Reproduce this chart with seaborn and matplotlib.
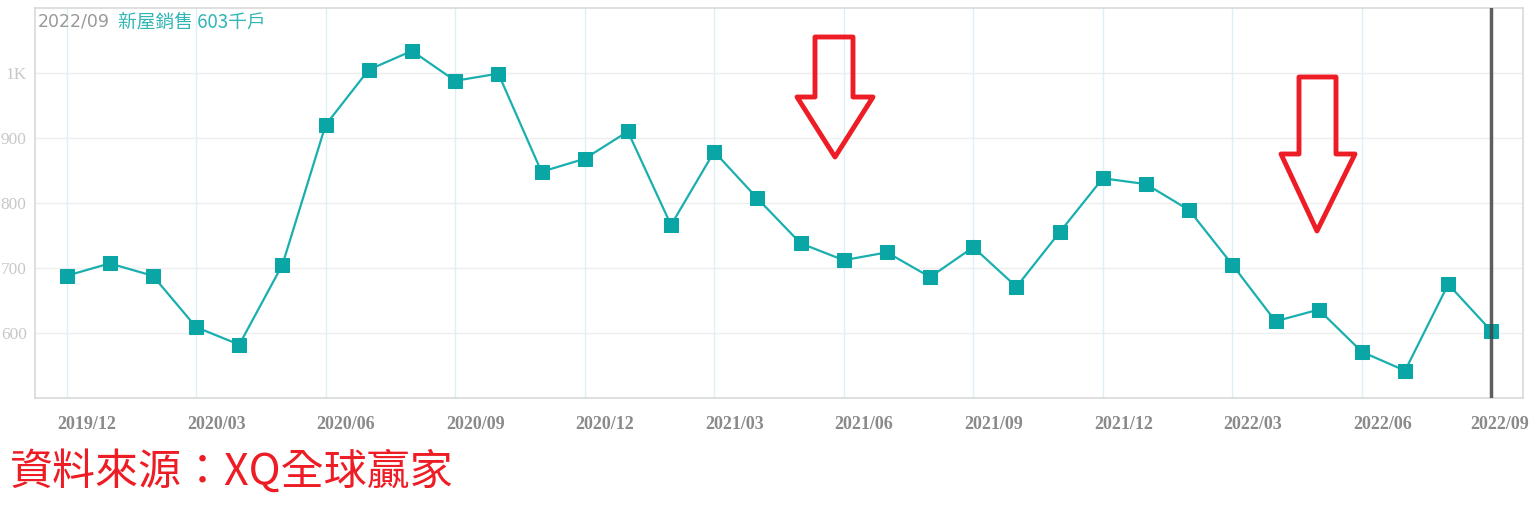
import pandas as pd
import numpy as np
import matplotlib
matplotlib.use("Agg")
from matplotlib import pyplot as plt
from matplotlib.patches import Polygon
from matplotlib.transforms import ScaledTranslation
import seaborn as sns

# monthly new home sales (thousand units), 2019/12 - 2022/09
months = ["2019/12", "2020/01", "2020/02", "2020/03", "2020/04", "2020/05",
          "2020/06", "2020/07", "2020/08", "2020/09", "2020/10", "2020/11",
          "2020/12", "2021/01", "2021/02", "2021/03", "2021/04", "2021/05",
          "2021/06", "2021/07", "2021/08", "2021/09", "2021/10", "2021/11",
          "2021/12", "2022/01", "2022/02", "2022/03", "2022/04", "2022/05",
          "2022/06", "2022/07", "2022/08", "2022/09"]
sales = [688, 707, 688, 609, 582, 705, 920, 1005, 1034, 988, 999, 848,
         868, 910, 766, 879, 807, 738, 712, 724, 686, 732, 671, 755,
         838, 829, 789, 705, 618, 636, 571, 542, 675, 603]
ytick_vals = [600, 700, 800, 900, 1000]
ytick_labels = ["600", "700", "800", "900", "1K"]

df = pd.DataFrame({"idx": range(len(months)), "month": months, "sales": sales})

sns.set_theme(style="white")
plt.rcParams["font.family"] = ["Noto Sans CJK TC", "DejaVu Sans"]

fig = plt.figure(figsize=(15.36, 5.32), dpi=100)
ax = fig.add_axes([0.0228, 0.2519, 0.9687, 0.7331])

teal = "#1aafaf"
sns.lineplot(data=df, x="idx", y="sales", ax=ax, color=teal, linewidth=1.6,
             marker="s", markersize=10, markerfacecolor="#0aa6a6",
             markeredgecolor="#0aa6a6", zorder=3)

ax.set_xlim(-0.73, 33.73)
ax.set_ylim(500, 1100)

tick_idx = df.idx[::3]
ax.set_xticks(tick_idx)
ax.set_xticklabels(df.month[::3], fontfamily="Liberation Serif", fontsize=13,
                   color="#8a8a8a", fontweight="bold")
ax.set_yticks(ytick_vals)
ax.set_yticklabels(ytick_labels, fontfamily="Liberation Serif", fontsize=12.5,
                   color="#c8c8c8")
ax.tick_params(axis="x", length=5, color="#d6eef5", pad=8)
ax.tick_params(axis="y", length=0, pad=6)
ax.set_xlabel("")
ax.set_ylabel("")

# labels sit slightly right of their tick, last one pulled in to fit
labels = ax.get_xticklabels()
for lab in labels[:-1]:
    lab.set_ha("left")
    lab.set_transform(lab.get_transform() + ScaledTranslation(-9 / 100, 0, fig.dpi_scale_trans))
labels[-1].set_ha("left")
labels[-1].set_transform(labels[-1].get_transform() + ScaledTranslation(-21 / 100, 0, fig.dpi_scale_trans))

for v in ytick_vals:
    ax.axhline(v, color="#eeeeee", linewidth=1, zorder=0)
for i in tick_idx:
    ax.axvline(i, color="#dcf0f7", linewidth=1, zorder=0)

# cursor line on the latest month
ax.axvline(df.idx.iloc[-1], color="#444444", linewidth=2.5, alpha=0.85, zorder=4)

for s in ax.spines.values():
    s.set_color("#d9d9d9")
    s.set_linewidth(1.2)

# header text
ax.text(0.002, 0.988, months[-1], transform=ax.transAxes, ha="left", va="top",
        fontsize=12.5, color="#999999", family=["DejaVu Sans"])
ax.text(0.056, 0.99, "新屋銷售 %d千戶" % sales[-1], transform=ax.transAxes,
        ha="left", va="top", fontsize=13.5, color="#33b5b5")

# red hollow arrows (figure pixel coords -> fractions)
W, H = 1536, 532
def arrow(x0, x1, top, neck, hx0, hx1, tipx, tipy):
    pts = [(x0, top), (x1, top), (x1, neck), (hx1, neck), (tipx, tipy),
           (hx0, neck), (x0, neck)]
    pts = [(px / W, 1 - py / H) for px, py in pts]
    fig.patches.append(Polygon(pts, closed=True, fill=False, edgecolor="#ee1c25",
                               linewidth=3.5, joinstyle="round",
                               transform=fig.transFigure, figure=fig))

arrow(815, 853, 37, 97, 797, 873, 835, 157)
arrow(1299, 1336, 77, 154, 1281, 1355, 1317, 231)

fig.text(10 / W, 1 - 473 / H, "資料來源：XQ全球贏家", ha="left", va="center",
         fontsize=31, color="#ee1c25")

fig.savefig("out.png", dpi=100)
